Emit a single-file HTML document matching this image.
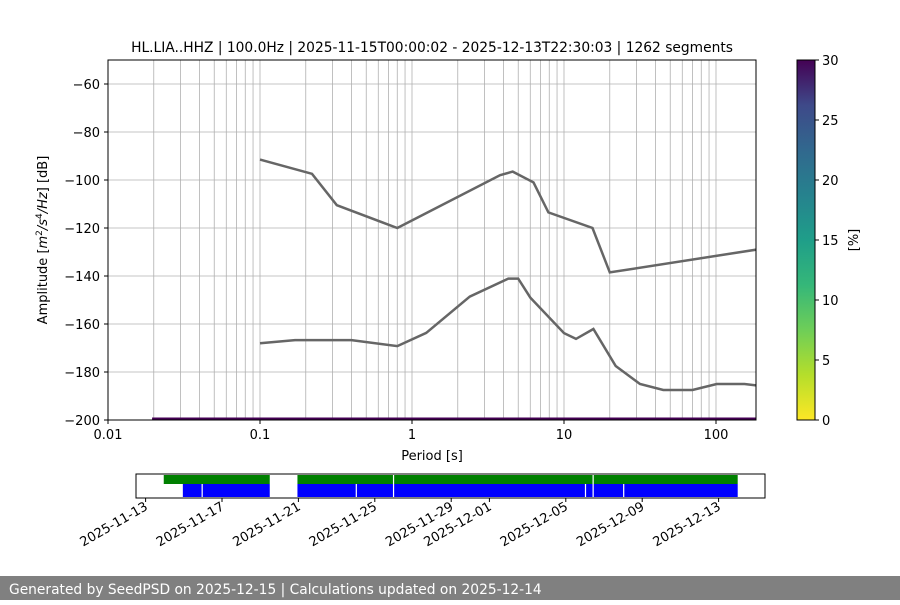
<!DOCTYPE html>
<html><head><meta charset="utf-8"><style>
body{margin:0;background:#fff;}
svg text{font-family:"DejaVu Sans","Liberation Sans",sans-serif;}
</style></head><body>
<svg id="s" width="900" height="600" xmlns="http://www.w3.org/2000/svg">
<defs>
<linearGradient id="vir" x1="0" y1="1" x2="0" y2="0">
<stop offset="0" stop-color="#fde725"/><stop offset="0.125" stop-color="#b5de2b"/><stop offset="0.25" stop-color="#6ece58"/><stop offset="0.375" stop-color="#35b779"/><stop offset="0.5" stop-color="#1f9e89"/><stop offset="0.625" stop-color="#26828e"/><stop offset="0.75" stop-color="#31688e"/><stop offset="0.875" stop-color="#3e4989"/><stop offset="1" stop-color="#440154"/>
</linearGradient>
<clipPath id="clip"><rect x="108" y="60" width="648" height="360"/></clipPath>
</defs>
<g id="main"></g>
<text x="432" y="52" font-size="13.8" text-anchor="middle">HL.LIA..HHZ | 100.0Hz | 2025-11-15T00:00:02 - 2025-12-13T22:30:03 | 1262 segments</text>
<text x="432" y="460" font-size="13" text-anchor="middle">Period [s]</text>
<text transform="translate(47,240) rotate(-90)" font-size="13" text-anchor="middle">Amplitude [<tspan font-style="italic">m</tspan><tspan font-size="9" dy="-5">2</tspan><tspan dy="5" font-style="italic">/s</tspan><tspan font-size="9" dy="-5">4</tspan><tspan dy="5" font-style="italic">/Hz</tspan>] [dB]</text>
<rect x="797" y="60" width="18" height="360" fill="url(#vir)" stroke="#000" stroke-width="1"/>
<g id="cbt"></g>
<text transform="translate(858,240) rotate(-90)" font-size="13" text-anchor="middle">[%]</text>
<g id="tl"></g>
<rect x="0" y="576" width="900" height="24" fill="#808080"/>
<text x="9" y="594" font-size="13.8" fill="#fff">Generated by SeedPSD on 2025-12-15 | Calculations updated on 2025-12-14</text>
</svg>
<script>
const xTickVals=[0.01,0.1,1,10,100];
const xTickLabels=["0.01","0.1","1","10","100"];
const yTickVals=[-60,-80,-100,-120,-140,-160,-180,-200];
const hnmPeriods=[0.1,0.22,0.32,0.8,3.8,4.6,6.3,7.9,15.4,20,354.8];
const hnmValues=[-91.5,-97.4,-110.5,-120,-98,-96.5,-101,-113.5,-120,-138.5,-126.2];
const lnmPeriods=[0.1,0.17,0.4,0.8,1.24,2.4,4.3,5,6,10,12,15.6,21.9,31.6,45,70,101,154,328];
const lnmValues=[-168,-166.7,-166.7,-169.2,-163.7,-148.6,-141.1,-141.1,-149,-163.8,-166.2,-162.1,-177.5,-185,-187.5,-187.5,-185,-185,-187.5];
const cbTicks=[0,5,10,15,20,25,30];
const dateTicks=["2025-11-13","2025-11-17","2025-11-21","2025-11-25","2025-11-29","2025-12-01","2025-12-05","2025-12-09","2025-12-13"];
const greenSpans=[[0.95,6.5],[7.95,31.0]];
const blueSpans=[[1.95,6.5],[7.95,31.0]];
const blueGaps=[2.93,11.0,12.95,23.0,23.4,25.0];
const greenGaps=[12.95,23.4];
const NS="http://www.w3.org/2000/svg";
const X=p=>108+152*(Math.log10(p)+2);
const Y=v=>420-(v+200)*2.4;
const D=d=>145.6+19.1*d;
function mk(t,a,parent,txt){const e=document.createElementNS(NS,t);for(const k in a)e.setAttribute(k,a[k]);if(txt!==undefined)e.textContent=txt;parent.appendChild(e);return e;}
const g=document.getElementById('main');
for(let k=-2;k<=2;k++)for(let m=1;m<=9;m++){const p=m*Math.pow(10,k);if(p<=0.01||p>183)continue;
 const l=mk('line',{x1:X(p),x2:X(p),y1:60,y2:420,stroke:'#b0b0b0','stroke-width':0.8},g);
 
 }
yTickVals.forEach(v=>{const l=mk('line',{x1:108,x2:756,y1:Y(v),y2:Y(v),stroke:'#b0b0b0','stroke-width':0.8},g);
 
 
 const t=mk('line',{x1:104,x2:108,y1:Y(v),y2:Y(v),stroke:'#000'},g);
 
 
 const tx=mk('text',{x:100,y:Y(v)+5,'font-size':13,'text-anchor':'end'},g,'\u2212'+Math.abs(v));
 
 });
xTickVals.forEach((p,i)=>{const t=mk('line',{x1:X(p),x2:X(p),y1:420,y2:424,stroke:'#000'},g);
 
 
 const tx=mk('text',{x:X(p),y:439,'font-size':13,'text-anchor':'middle'},g,xTickLabels[i]);
 
 });
const hist=mk('line',{x1:X(0.0195),x2:756,y1:419,y2:419,stroke:'#440154','stroke-width':3,'clip-path':'url(#clip)'},g);


function curve(ps,vs,name){const d=ps.map((p,i)=>(i?'L':'M')+X(p).toFixed(1)+','+Y(vs[i]).toFixed(1)).join('');
 const e=mk('path',{d:d,fill:'none',stroke:'#666','stroke-width':2.5,'clip-path':'url(#clip)'},g);
 
 }
curve(hnmPeriods,hnmValues,'high-noise-model');
curve(lnmPeriods,lnmValues,'low-noise-model');
const fr=mk('rect',{x:108,y:60,width:648,height:360,fill:'none',stroke:'#000','stroke-width':1},g);


const cb=document.getElementById('cbt');
cbTicks.forEach(v=>{const y=420-v*12;
 const t=mk('line',{x1:815,x2:819,y1:y,y2:y,stroke:'#000'},cb);
 
 
 const tx=mk('text',{x:822,y:y+5,'font-size':13},cb,String(v));
 
 });
const tl=document.getElementById('tl');
greenSpans.forEach(s=>{const r=mk('rect',{x:D(s[0]),y:475,width:D(s[1])-D(s[0]),height:9,fill:'#008000'},tl);
 
 });
blueSpans.forEach(s=>{const r=mk('rect',{x:D(s[0]),y:484,width:D(s[1])-D(s[0]),height:13,fill:'#0000ff'},tl);
 
 });
blueGaps.forEach(d=>{const r=mk('rect',{x:D(d),y:484,width:1.2,height:13,fill:'#fff'},tl);
 
 });
greenGaps.forEach(d=>{const r=mk('rect',{x:D(d),y:475,width:1.2,height:9,fill:'#fff'},tl);
 
 });
const tf=mk('rect',{x:136,y:474,width:629,height:24,fill:'none',stroke:'#000'},tl);


dateTicks.forEach(ds=>{const d=(Date.parse(ds)-Date.parse("2025-11-13"))/86400000;const x=D(d);
 const t=mk('line',{x1:x,x2:x,y1:498,y2:502,stroke:'#000'},tl);
 
 
 const tx=mk('text',{x:x+3,y:509,'font-size':13,'text-anchor':'end',transform:`rotate(-30 ${x+3} 509)`},tl,ds);
 
 });
</script>
</body></html>
